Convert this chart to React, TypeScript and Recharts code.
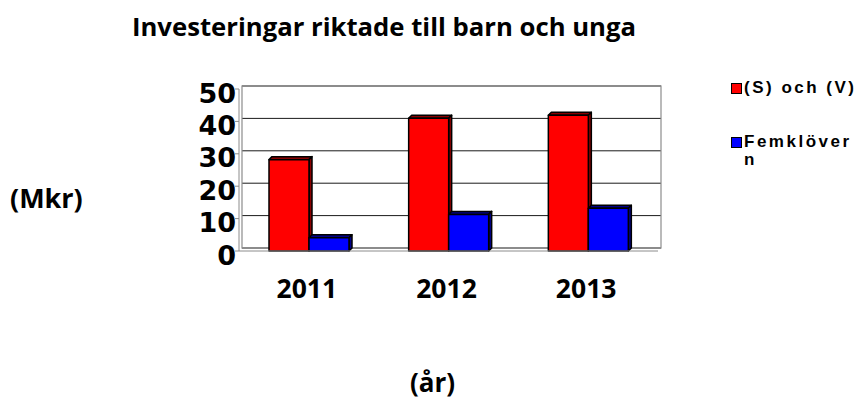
import React from "react";
import {
  BarChart,
  Bar,
  XAxis,
  YAxis,
  CartesianGrid,
  ReferenceArea,
} from "recharts";

const years = ["2011", "2012", "2013"];
const svValues = [28.2, 41.0, 41.9];
const femValues = [4.1, 11.3, 13.2];
const yTicks = [0, 10, 20, 30, 40, 50];
const edgeTicks = [0, 1, 2, 3];
const seriesNames = ["(S) och (V)", "Femklöver\nn"];

const data = years.map((year, i) => ({
  year,
  sv: svValues[i],
  fem: femValues[i],
}));

const DEPTH = 3;

function make3DBar(front: string, side: string) {
  return (props: any) => {
    const { x, y, width, height } = props;
    if (width == null || height == null) return <g />;
    const d = DEPTH;
    return (
      <g stroke="#000" strokeWidth={1.5} strokeLinejoin="round">
        <polygon
          points={`${x},${y} ${x + d},${y - d} ${x + width + d},${y - d} ${x + width},${y}`}
          fill={side}
        />
        <polygon
          points={`${x + width},${y} ${x + width + d},${y - d} ${x + width + d},${y + height - d} ${x + width},${y + height}`}
          fill={side}
        />
        <rect x={x} y={y} width={width} height={height} fill={front} />
      </g>
    );
  };
}

const BackWall = (props: any) => {
  const { x, y, width, height } = props;
  return (
    <rect
      x={x + DEPTH}
      y={y - DEPTH}
      width={width}
      height={height}
      fill="none"
      stroke="#8c8c8c"
      strokeWidth={1.2}
    />
  );
};

const GridLine = (props: any) => {
  const { x1, y1, x2, y2, key } = props;
  return (
    <line
      key={key}
      x1={x1 + DEPTH}
      x2={x2 + DEPTH}
      y1={y1 - DEPTH}
      y2={y2 - DEPTH}
      stroke="#1a1a1a"
      strokeWidth={1}
    />
  );
};

const YTick = (props: any) => {
  const { x, y, payload } = props;
  return (
    <text
      x={x + 1}
      y={y + 4}
      textAnchor="end"
      dominantBaseline="central"
      fontFamily="DejaVu Sans"
      fontWeight="bold"
      fontSize={27}
      fill="#000"
    >
      {payload.value}
    </text>
  );
};

const CatTick = (props: any) => {
  const { x, y, payload } = props;
  return (
    <text
      x={x - 2}
      y={y + 19}
      textAnchor="middle"
      dominantBaseline="central"
      fontFamily="Open Sans"
      fontWeight="bold"
      fontSize={26.5}
      fill="#000"
    >
      {payload.value}
    </text>
  );
};

const legendColors = ["#FF0000", "#0000FF"];

export default function App() {
  return (
    <div style={{ position: "absolute", left: 0, top: 0, width: 863, height: 401, background: "#fff" }}>
      <div
        style={{
          position: "absolute",
          left: 0,
          width: 768,
          top: 10,
          textAlign: "center",
          fontFamily: "Open Sans",
          fontWeight: "bold",
          fontSize: 25.7,
          lineHeight: "34px",
        }}
      >
        Investeringar riktade till barn och unga
      </div>
      <div
        style={{
          position: "absolute",
          left: 10,
          top: 181,
          fontFamily: "Open Sans",
          fontWeight: "bold",
          fontSize: 27,
          lineHeight: "34px",
        }}
      >
        (Mkr)
      </div>
      <div
        style={{
          position: "absolute",
          left: 410,
          top: 365,
          fontFamily: "Open Sans",
          fontWeight: "bold",
          fontSize: 26,
          lineHeight: "34px",
        }}
      >
        (år)
      </div>
      <div
        style={{
          position: "absolute",
          left: 731,
          top: 79,
          width: 132,
          fontFamily: "Liberation Sans",
          fontWeight: "bold",
          fontSize: 17,
          letterSpacing: 2.5,
        }}
      >
        {seriesNames.map((name, i) => (
          <div
            key={name}
            style={{ display: "flex", alignItems: "flex-start", marginBottom: i === 0 ? 36 : 0 }}
          >
            <span
              style={{
                display: "inline-block",
                width: 9,
                height: 9,
                marginTop: 4,
                marginRight: 2,
                background: legendColors[i],
                border: "1px solid #000",
                flex: "none",
              }}
            />
            <span style={{ whiteSpace: "pre", lineHeight: "18px" }}>{name}</span>
          </div>
        ))}
      </div>
      <BarChart
        width={863}
        height={401}
        data={data}
        margin={{ top: 89, right: 205, bottom: 90, left: 0 }}
        barCategoryGap={30}
        barGap={0}
        style={{ position: "absolute", left: 0, top: 0 }}
      >
        <CartesianGrid xAxisId="cat" vertical={false} horizontal={GridLine} />
        <ReferenceArea xAxisId="cat" y1={0} y2={50} shape={BackWall} />
        <XAxis
          xAxisId="aEdge"
          type="number"
          domain={[0, 3]}
          allowDataOverflow
          ticks={edgeTicks}
          height={10}
          tick={false}
          tickSize={7}
          stroke="#8c8c8c"
        />
        <XAxis
          xAxisId="cat"
          dataKey="year"
          height={50}
          axisLine={false}
          tickLine={false}
          tick={CatTick}
        />
        <YAxis
          width={239}
          domain={[0, 50]}
          ticks={yTicks}
          interval={0}
          tick={YTick}
          tickSize={4}
          tickMargin={0}
          stroke="#8c8c8c"
        />
        <Bar
          xAxisId="cat"
          dataKey="sv"
          name={seriesNames[0]}
          fill="#FF0000"
          shape={make3DBar("#FF0000", "#8a0000")}
          isAnimationActive={false}
        />
        <Bar
          xAxisId="cat"
          dataKey="fem"
          name={seriesNames[1]}
          fill="#0000FF"
          shape={make3DBar("#0000FF", "#00008a")}
          isAnimationActive={false}
        />
      </BarChart>
    </div>
  );
}
